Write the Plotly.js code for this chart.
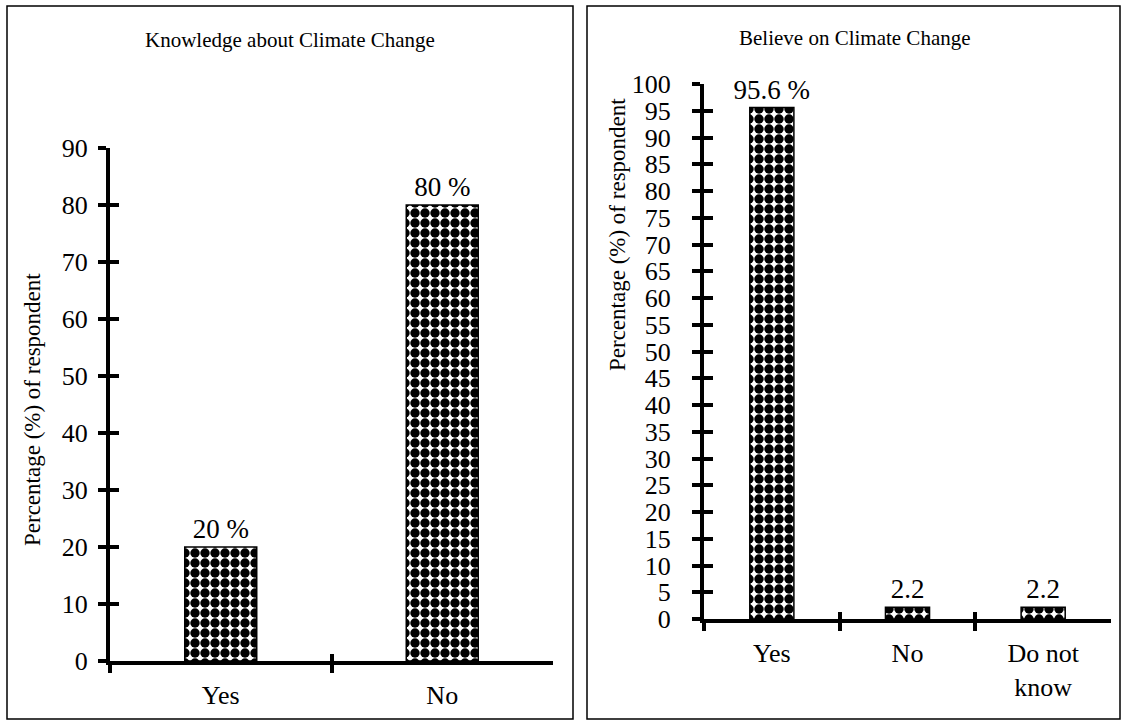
<!DOCTYPE html>
<html>
<head>
<meta charset="utf-8">
<script src="https://cdn.plot.ly/plotly-3.0.1.min.js"></script>
<style>html,body{margin:0;padding:0;background:#fff;}#chart{width:1127px;height:722px;}</style>
</head>
<body>
<div id="chart"></div>
<script>
// ---- data ----
const knowledgeCategories = ["Yes", "No"];
const knowledgeValues = [20, 80];
const knowledgeLabels = ["20 %", "80 %"];

const believeCategories = ["Yes", "No", "Do not<br>know"];
const believeValues = [95.6, 2.2, 2.2];
const believeLabels = ["95.6 %", "2.2", "2.2"];

const leftTitle = "Knowledge about Climate Change";
const rightTitle = "Believe on Climate Change";
const yTitle = "Percentage (%) of respondent";

// ---- styling ----
const FONT = "Liberation Serif";
const W = 1127, H = 722;
const px = v => v / W;
const py = v => (H - v) / H;

const pattern = {shape: ".", fgcolor: "#000", fgopacity: 1, bgcolor: "#fff", size: 10, solidity: 0.7, fillmode: "overlay"};

function barTrace(cats, vals, labels, xa, ya) {
  return {
    type: "bar", x: cats, y: vals, xaxis: xa, yaxis: ya,
    text: labels, textposition: "outside", cliponaxis: false, constraintext: "none",
    textfont: {family: FONT, size: 27, color: "#000"},
    marker: {color: "#fff", pattern: pattern, line: {color: "#000", width: 1.5}},
    hoverinfo: "skip", showlegend: false
  };
}
function ghost(cats, xa, ya) {
  return {type: "scatter", mode: "none", x: cats, y: cats.map(() => null),
          xaxis: xa, yaxis: ya, hoverinfo: "skip", showlegend: false};
}

const data = [
  barTrace(knowledgeCategories, knowledgeValues, knowledgeLabels, "x", "y"),
  barTrace(believeCategories, believeValues, believeLabels, "x2", "y2"),
  ghost(knowledgeCategories, "x3", "y3"),
  ghost(believeCategories, "x4", "y4")
];

const axFont = {family: FONT, size: 26, color: "#000"};
const L = {x0: px(110), x1: px(553), y0: py(661), y1: py(148)};
const R = {x0: px(704), x1: px(1111), y0: py(619), y1: py(84)};

function xAxis(dom, anchor, extra) {
  return Object.assign({
    domain: dom, anchor: anchor, type: "category",
    showline: true, linecolor: "#000", linewidth: 4,
    ticks: "outside", tickson: "boundaries", ticklen: 8, tickwidth: 4, tickcolor: "#000",
    tickfont: axFont, ticklabelstandoff: 8,
    showgrid: false, zeroline: false, fixedrange: true
  }, extra || {});
}
function yAxis(dom, anchor, range, dtick, extra) {
  return Object.assign({
    domain: dom, anchor: anchor, range: range, dtick: dtick, tick0: 0,
    showline: true, linecolor: "#000", linewidth: 4,
    ticks: "outside", ticklen: 8, tickwidth: 4, tickcolor: "#000",
    tickfont: axFont, showgrid: false, zeroline: false, fixedrange: true
  }, extra || {});
}
const overlayX = {ticks: "inside", ticklen: 7, showline: false, showticklabels: false};
const overlayY = {ticks: "inside", ticklen: 9, showline: false, showticklabels: false};

const titleFont = {family: FONT, size: 21, color: "#000"};
const yTitleFont = {family: FONT, size: 23, color: "#000"};

const layout = {
  width: W, height: H,
  margin: {l: 0, r: 0, t: 0, b: 0},
  paper_bgcolor: "#fff", plot_bgcolor: "rgba(0,0,0,0)",
  bargap: 0.675,
  font: {family: FONT, color: "#000"},
  xaxis: xAxis([L.x0, L.x1], "y", {range: [-0.5, 1.5]}),
  yaxis: yAxis([L.y0, L.y1], "x", [0, 90], 10, {ticklabelstandoff: 5}),
  xaxis2: xAxis([R.x0, R.x1], "y2", {range: [-0.5, 2.5]}),
  yaxis2: yAxis([R.y0, R.y1], "x2", [0, 100], 5, {ticklabelstandoff: 16}),
  xaxis3: xAxis([L.x0, L.x1], "y3", Object.assign({overlaying: "x", range: [-0.5, 1.5]}, overlayX)),
  yaxis3: yAxis([L.y0, L.y1], "x3", [0, 90], 10, Object.assign({overlaying: "y"}, overlayY)),
  xaxis4: xAxis([R.x0, R.x1], "y4", Object.assign({overlaying: "x2", range: [-0.5, 2.5]}, overlayX)),
  yaxis4: yAxis([R.y0, R.y1], "x4", [0, 100], 5, Object.assign({overlaying: "y2"}, overlayY)),
  annotations: [
    {text: leftTitle, xref: "paper", yref: "paper", x: px(290), y: py(40), showarrow: false,
     xanchor: "center", yanchor: "middle", font: titleFont},
    {text: rightTitle, xref: "paper", yref: "paper", x: px(855), y: py(38), showarrow: false,
     xanchor: "center", yanchor: "middle", font: titleFont},
    {text: yTitle, xref: "paper", yref: "paper", x: px(32), y: py(410), textangle: -90, showarrow: false,
     xanchor: "center", yanchor: "middle", font: yTitleFont},
    {text: yTitle, xref: "paper", yref: "paper", x: px(617), y: py(235), textangle: -90, showarrow: false,
     xanchor: "center", yanchor: "middle", font: yTitleFont}
  ],
  shapes: [
    {type: "rect", xref: "paper", yref: "paper", x0: px(7), x1: px(573), y0: py(719), y1: py(6),
     line: {color: "#000", width: 1.5}, fillcolor: "rgba(0,0,0,0)"},
    {type: "rect", xref: "paper", yref: "paper", x0: px(587), x1: px(1120), y0: py(719), y1: py(6),
     line: {color: "#000", width: 1.5}, fillcolor: "rgba(0,0,0,0)"}
  ]
};

Plotly.newPlot("chart", data, layout, {staticPlot: true, displayModeBar: false});
</script>
</body>
</html>
